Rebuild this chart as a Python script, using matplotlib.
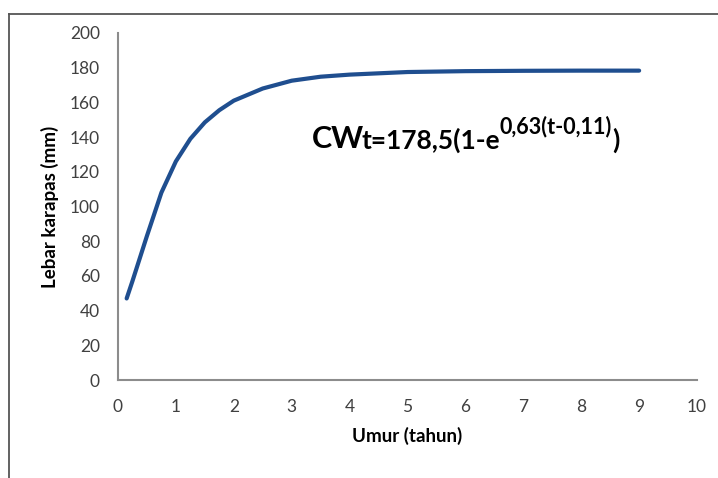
import matplotlib.pyplot as plt
from matplotlib.lines import Line2D

# Von Bertalanffy growth curve
umur = [0.15, 0.25, 0.5, 0.75, 1.0, 1.25, 1.5, 1.75, 2.0, 2.5, 3.0, 3.5, 4.0, 5.0, 6.0, 7.0, 8.0, 9.0]
lebar = [47, 57, 83, 108, 126, 139, 148.5, 155.5, 161, 168, 172.5, 174.8, 176, 177.5, 178, 178.2, 178.3, 178.3]

xticks = list(range(0, 11))
yticks = list(range(0, 201, 20))

plt.rcParams['font.family'] = ['Lato', 'DejaVu Sans']

fig = plt.figure(figsize=(7.18, 4.78), dpi=100)
ax = fig.add_axes([0.1643, 0.205, 0.8065, 0.726])

ax.plot(umur, lebar, color='#1f4e8f', linewidth=3, solid_capstyle='round',
        solid_joinstyle='round')

ax.set_xlim(0, 10)
ax.set_ylim(0, 200)
ax.set_xticks(xticks)
ax.set_yticks(yticks)
ax.tick_params(length=0, labelsize=12.5, labelcolor='#404040')
ax.tick_params(axis='x', pad=14)
ax.tick_params(axis='y', pad=13)

for s in ['top', 'right']:
    ax.spines[s].set_visible(False)
for s in ['left', 'bottom']:
    ax.spines[s].set_color('#8c8c8c')
    ax.spines[s].set_linewidth(1.5)

ax.set_xlabel('Umur (tahun)', fontsize=13.5, fontweight='bold', labelpad=8)
ax.set_ylabel('Lebar karapas (mm)', fontsize=13.5, fontweight='bold', labelpad=8)

# equation built from pieces
t1 = ax.text(3.35, 133.7, 'CW', fontsize=22, fontweight='bold', color='black',
             va='baseline')
t2 = ax.annotate('t=178,5(1-e', xy=(1, 0), xycoords=t1, xytext=(-2, 0),
                 textcoords='offset points', fontsize=19,
                 fontweight='bold', va='bottom', ha='left')
t3 = ax.annotate('0,63(t-0,11)', xy=(1, 0), xycoords=t2, xytext=(0, 11),
                 textcoords='offset points', fontsize=15.5,
                 fontweight='bold', va='bottom', ha='left')
ax.annotate(')', xy=(1, 0), xycoords=(t3, t2), fontsize=19,
            fontweight='bold', va='bottom', ha='left')

# chart frame
fig.add_artist(Line2D([9 / 718, 9 / 718], [0, 1 - 14 / 478], color='#555555', linewidth=1.3))
fig.add_artist(Line2D([9 / 718, 1], [1 - 14 / 478, 1 - 14 / 478], color='#555555', linewidth=1.3))

fig.savefig('out.png', dpi=100)
